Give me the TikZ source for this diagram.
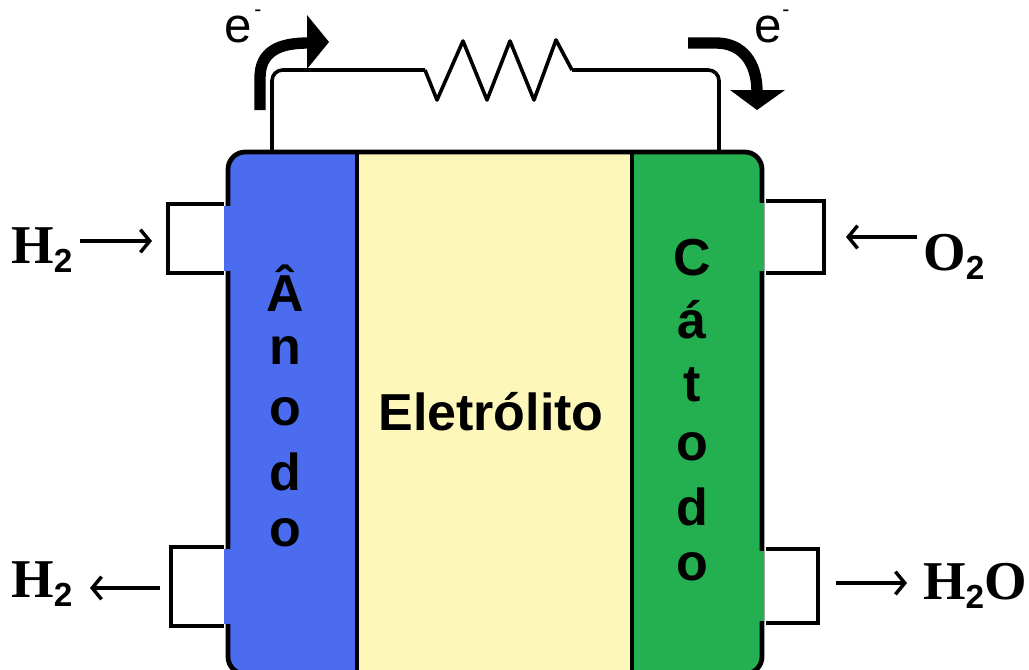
\documentclass[tikz,border=0pt]{standalone}
\usepackage{fontspec}
\setmainfont{Liberation Sans}
\setsansfont{Liberation Sans}
\newfontfamily\serifbold{Liberation Serif}[BoldFont={* Bold}]
\usetikzlibrary{arrows.meta}
\definecolor{anodeblue}{RGB}{76,108,240}
\definecolor{cathodegreen}{RGB}{36,176,80}
\definecolor{electrolyte}{RGB}{254,247,186}
\tikzset{
  cellline/.style={line width=3.6pt,line join=round},
  wire/.style={line width=2.7pt,line join=round},
  gasflow/.style={line width=2.9pt,-{Straight Barb[length=7pt,width=17pt,line width=2.6pt]}},
  bigflow/.style={line width=8.5pt},
  cellletter/.style={font=\fontsize{39}{42}\selectfont\bfseries,inner sep=0pt},
  gaslabel/.style={font=\serifbold\fontsize{41}{44}\selectfont\bfseries,inner sep=0pt},
  electron/.style={font=\fontsize{37}{40}\selectfont,inner sep=0pt}
}
\newcommand{\subtwo}{\raisebox{-7pt}{\fontsize{25}{26}\selectfont\sffamily\bfseries 2}}
\begin{document}
\begin{tikzpicture}[x=0.75pt,y=-0.75pt]
  \useasboundingbox (0,0) rectangle (1029,669);
  % cell body
  \begin{scope}
    \clip[rounded corners=13pt] (228,152) rectangle (762,674);
    \fill[anodeblue] (226,150) rectangle (357,676);
    \fill[electrolyte] (357,150) rectangle (632,676);
    \fill[cathodegreen] (632,150) rectangle (764,676);
  \end{scope}
  \draw[cellline,rounded corners=13pt] (228,152) rectangle (762,674);
  \draw[cellline] (357,152) -- (357,674);
  \draw[cellline] (632,152) -- (632,674);
  % gas ports
  \foreach \xa/\xb/\ya/\yb in {224/168/204/273, 224/171/547/626, 766/824/201/273, 766/818/549/623}
  {
    \fill[white] (\xa,\ya) rectangle (\xb,\yb);
    \draw[cellline,line join=miter] (\xa,\ya) -- (\xb,\ya) -- (\xb,\yb) -- (\xa,\yb);
  }
  \foreach \ya/\yb in {206/271,549/624}
    \fill[anodeblue] (224,\ya) rectangle (232,\yb);
  \foreach \ya/\yb in {203/271,551/621}
    \fill[cathodegreen] (758,\ya) rectangle (764,\yb);
  % text in the cell
  \foreach \n/\y/\t in {1/288/Â,2/350/n,3/412/o,4/472/d,5/533/o}
    \node[cellletter] (anode\n) at (285,\y) {\t};
  \foreach \n/\y/\t in {1/258/C,2/320/á,3/385/t,4/447/o,5/507/d,6/567/o}
    \node[cellletter] (cathode\n) at (692,\y) {\t};
  \node[cellletter] (electrolyte) at (491,412) {Eletrólito};
  % external circuit
  \coordinate (wirea) at (272,152);
  \coordinate (wireb) at (719,152);
  \draw[wire,rounded corners=8pt] (wirea) -- (272,70) -- (425,70);
  \draw[wire] (425,70) -- (437,100) -- (463,41) -- (487,100) -- (510,41) -- (534,100) -- (556,40) -- (572,70);
  \draw[wire,rounded corners=8pt] (572,70) -- (719,70) -- (wireb);
  % electron flow
  \draw[bigflow] (260,110) -- (260,78) .. controls (260,52) and (278,43) .. (308,43);
  \fill (307,15) -- (329,42) -- (307,69) -- cycle;
  \draw[bigflow] (688,43) -- (716,43) .. controls (742,43) and (757,62) .. (757,92);
  \fill (730,90) -- (785,90) -- (757,110) -- cycle;
  \node[electron] (ea) at (238,29) {e};
  \node[electron] (eb) at (768,29) {e};
  \node[electron,font=\fontsize{16}{16}\selectfont] (eaminus) at (258,13) {-};
  \node[electron,font=\fontsize{16}{16}\selectfont] (ebminus) at (786,13) {-};
  % gases
  \node[gaslabel] (hin) at (42,250) {H\subtwo};
  \node[gaslabel] (hout) at (42,584) {H\subtwo};
  \node[gaslabel] (oin) at (954,257) {O\subtwo};
  \node[gaslabel] (wout) at (975,586) {H\subtwo O};
  \coordinate (hinend) at (152,241);
  \coordinate (houtstart) at (160,588);
  \coordinate (oinstart) at (917,237);
  \coordinate (oinend) at (846,237);
  \coordinate (woutstart) at (836,583);
  \draw[gasflow] (80,241) -- (hinend);
  \draw[gasflow] (houtstart) -- (90,588);
  \draw[gasflow] (oinstart) -- (oinend);
  \draw[gasflow] (woutstart) -- (907,583);
\end{tikzpicture}
\end{document}
